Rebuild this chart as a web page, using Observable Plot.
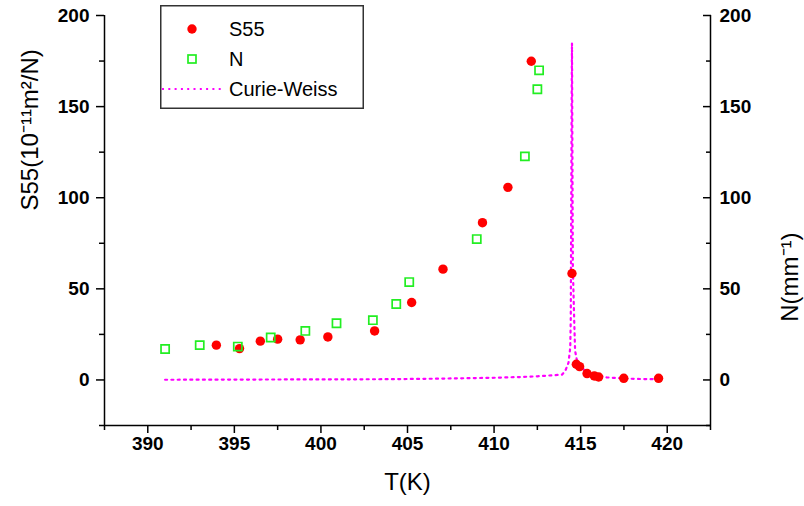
<!DOCTYPE html>
<html><head><meta charset="utf-8">
<script src="https://cdn.jsdelivr.net/npm/d3@7"></script>
<script src="https://cdn.jsdelivr.net/npm/@observablehq/plot@0.6"></script>
<style>
body{margin:0;background:#fff;font-family:"Liberation Sans",Arial,sans-serif;}
#chart{position:relative;width:804px;height:506px;}
#legend{position:absolute;left:160px;top:5px;}
</style></head><body>
<div id="chart"></div>
<script>
// S55 data (red dots)
const s55T = [393.96, 395.3, 396.5, 397.5, 398.8, 400.4, 403.1, 405.24, 407.05, 409.33, 410.8, 412.15, 414.5, 414.75, 414.94, 415.37, 415.79, 416.04, 417.49, 419.5];
const s55V = [19.1, 17.2, 21.3, 22.4, 22.0, 23.6, 26.9, 42.5, 60.8, 86.3, 105.7, 174.9, 58.4, 8.6, 7.3, 3.5, 2.2, 1.6, 0.9, 0.9];
// N data (green open squares)
const nT = [391.0, 393.0, 395.2, 397.1, 399.1, 400.9, 403.0, 404.35, 405.1, 409.0, 411.78, 412.5, 412.6];
const nV = [17.0, 19.1, 18.3, 23.3, 26.9, 31.1, 32.8, 41.7, 53.7, 77.3, 122.7, 159.5, 169.9];
// Curie-Weiss curve
const cwT = [391, 395, 400, 403.6, 406, 408, 410, 411.5, 412.5, 413.3, 413.92, 414.11, 414.3, 414.4, 414.43, 414.45, 414.48, 414.5, 414.52, 414.55, 414.63, 414.68, 414.8, 415.2, 415.8, 416.5, 417.5, 418.5, 419.5];
const cwV = [0.1, 0.2, 0.3, 0.4, 0.6, 0.9, 1.2, 1.6, 2.0, 2.5, 2.9, 4.9, 9.5, 17.7, 34, 80, 150, 184.8, 135, 61.7, 32, 16, 10, 5.5, 3.0, 1.4, 0.8, 0.5, 0.4];
// ticks
const xMajor = [390, 395, 400, 405, 410, 415, 420];
const xMinor = [387.5, 392.5, 397.5, 402.5, 407.5, 412.5, 417.5, 422.5];
const yMajor = [0, 50, 100, 150, 200];
const yMinor = [-25, 25, 75, 125, 175];
const xDomain = [387.5, 422.5];
const yDomain = [-25, 200];
const xTitle = "T(K)";
const yTitle = "S55(10\u207B\u00B9\u00B9m\u00B2/N)";
const y2Title = "N(mm\u207B\u00B9)";
const seriesNames = ["S55", "N", "Curie-Weiss"];

const s55 = s55T.map((t, i) => ({T: t, v: s55V[i]}));
const nData = nT.map((t, i) => ({T: t, v: nV[i]}));
const cw = cwT.map((t, i) => ({T: t, v: cwV[i]}));

const font = "Liberation Sans, Arial, sans-serif";
const lab = {fontSize: 19, fontWeight: "bold", label: null};

const plot = Plot.plot({
  width: 804, height: 506,
  marginLeft: 104, marginRight: 94, marginTop: 15, marginBottom: 81,
  x: {domain: xDomain},
  y: {domain: yDomain},
  style: {fontFamily: font, background: "white", color: "black", overflow: "visible"},
  marks: [
    Plot.line(cw, {x: "T", y: "v", stroke: "#ff00ff", strokeWidth: 2.2, strokeDasharray: "2,4.3", curve: "linear"}),
    Plot.dot(s55, {x: "T", y: "v", r: 4.7, fill: "#ff0000"}),
    Plot.dot(nData, {x: "T", y: "v", symbol: "square", r: 4.6, stroke: "#22ee22", strokeWidth: 1.7, fill: "none"}),
    Plot.ruleY([yDomain[0]], {stroke: "black", strokeWidth: 1.5}),
    Plot.ruleX(xDomain, {stroke: "black", strokeWidth: 1.5}),
    Plot.axisX(xMinor, {tickSize: 5, text: null, strokeWidth: 1.5, label: null}),
    Plot.axisX(xMajor, {tickSize: 8, tickPadding: 3, strokeWidth: 1.5, ...lab}),
    Plot.axisY(yMinor, {anchor: "left", tickSize: 5, text: null, strokeWidth: 1.5, label: null}),
    Plot.axisY(yMajor, {anchor: "left", tickSize: 8, tickPadding: 7, strokeWidth: 1.5, ...lab}),
    Plot.axisY(yMinor, {anchor: "right", tickSize: 5, dx: -5, text: null, strokeWidth: 1.5, label: null}),
    Plot.axisY(yMajor, {anchor: "right", tickSize: 8, dx: -8, text: null, strokeWidth: 1.5, label: null}),
    Plot.axisY(yMajor, {anchor: "right", tickSize: 0, tickPadding: 9, textAnchor: "start", ...lab}),
    Plot.text([xTitle], {frameAnchor: "bottom", dy: 64, fontSize: 24, text: d => d}),
    Plot.text([yTitle], {frameAnchor: "left", dx: -74, dy: -10, rotate: -90, fontSize: 24, text: d => d}),
    Plot.text([y2Title], {frameAnchor: "right", dx: 80, dy: 12, rotate: -90, fontSize: 24, text: d => d})
  ]
});
const chart = document.getElementById("chart");
chart.appendChild(plot);

// legend box
const W = 204, H = 104;
const leg = d3.create("svg").attr("id", "legend").attr("width", W).attr("height", H)
  .style("font-family", font);
leg.append("rect").attr("x", 0.75).attr("y", 0.75).attr("width", W - 1.5).attr("height", H - 1.5)
  .attr("fill", "white").attr("stroke", "#333").attr("stroke-width", 1.5);
const rows = [24, 54, 84];
leg.append("circle").attr("cx", 32).attr("cy", rows[0]).attr("r", 4.7).attr("fill", "#ff0000");
leg.append("rect").attr("x", 28).attr("y", rows[1] - 4).attr("width", 8).attr("height", 8)
  .attr("fill", "none").attr("stroke", "#22ee22").attr("stroke-width", 1.7);
leg.append("line").attr("x1", 2).attr("x2", 62).attr("y1", rows[2]).attr("y2", rows[2])
  .attr("stroke", "#ff00ff").attr("stroke-width", 2.2).attr("stroke-dasharray", "2,4.3");
seriesNames.forEach((s, i) => {
  leg.append("text").attr("x", 69).attr("y", rows[i]).attr("dy", "0.36em")
    .attr("font-size", 20).attr("fill", "black").text(s);
});
chart.appendChild(leg.node());
</script>
</body></html>
